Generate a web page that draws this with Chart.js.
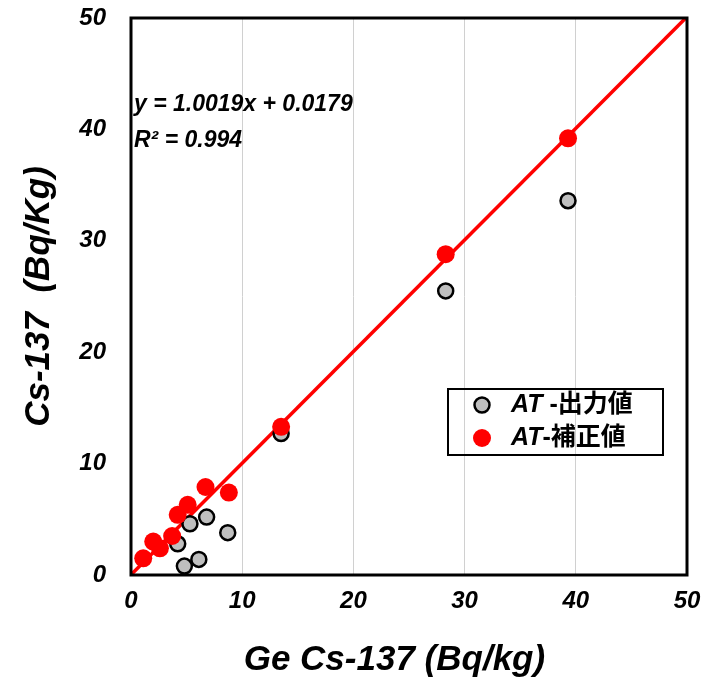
<!DOCTYPE html>
<html>
<head>
<meta charset="utf-8">
<script src="https://cdn.jsdelivr.net/npm/chart.js@4.4.0/dist/chart.umd.min.js"></script>
<style>
  body { margin: 0; background: #fff; }
  #wrap { width: 704px; height: 685px; }
</style>
</head>
<body>
<div id="wrap"><canvas id="scatterChart" width="704" height="685"></canvas></div>
<script>
// Ge (x) vs AT (y), Cs-137 Bq/kg
const atOutX = [39.3, 28.3, 13.5, 6.8, 5.3, 8.7, 4.2, 6.1, 4.8];
const atOutY = [33.6, 25.5, 12.7, 5.2, 4.6, 3.8, 2.8, 1.4, 0.8];

const atCorrX = [39.3, 28.3, 13.5, 6.7, 8.8, 5.1, 4.2, 3.7, 2.0, 2.6, 1.1];
const atCorrY = [39.2, 28.8, 13.3, 7.9, 7.4, 6.3, 5.4, 3.5, 3.0, 2.4, 1.5];

const fitSlope = 1.0019;
const fitIntercept = 0.0179;
const fitRange = [0, 50];

const xTicks = [0, 10, 20, 30, 40, 50];
const yTicks = [0, 10, 20, 30, 40, 50];

const toPoints = (xs, ys) => xs.map((x, i) => ({ x: x, y: ys[i] }));
const fitLine = fitRange.map(x => ({ x: x, y: fitSlope * x + fitIntercept }));

const FONT = '"Liberation Sans", Arial, "Noto Sans CJK JP", sans-serif';

// frame, equation and legend box
const extras = {
    id: 'extras',
    afterDraw(chart) {
        const c = chart.ctx;
        const a = chart.chartArea;
        c.save();
        c.strokeStyle = '#000';
        c.lineWidth = 3;
        c.strokeRect(a.left, a.top, a.right - a.left, a.bottom - a.top);

        c.fillStyle = '#000';
        c.font = 'italic bold 23px ' + FONT;
        c.textBaseline = 'middle';
        c.textAlign = 'left';
        c.fillText('y = 1.0019x + 0.0179', 134, 105);
        c.fillText('R\u00b2 = 0.994', 134, 141);

        // legend
        c.lineWidth = 2;
        c.strokeRect(448, 389, 215, 66);
        c.beginPath();
        c.arc(482, 405, 7.5, 0, Math.PI * 2);
        c.fillStyle = '#bfbfbf';
        c.fill();
        c.lineWidth = 2.5;
        c.stroke();
        c.beginPath();
        c.arc(482, 438, 9, 0, Math.PI * 2);
        c.fillStyle = '#ff0000';
        c.fill();

        c.fillStyle = '#000';
        c.font = 'italic bold 25px ' + FONT;
        c.fillText('AT', 511, 405);
        let w = c.measureText('AT').width;
        c.font = 'bold 25px ' + FONT;
        c.fillText(' -出力値', 511 + w, 405);
        c.font = 'italic bold 25px ' + FONT;
        c.fillText('AT', 511, 438);
        c.font = 'bold 25px ' + FONT;
        c.fillText('-補正値', 511 + w, 438);
        c.restore();
    }
};

window.addEventListener('DOMContentLoaded', function () {
    const ctx = document.getElementById('scatterChart').getContext('2d');
    new Chart(ctx, {
        type: 'scatter',
        data: {
            datasets: [
                {
                    label: 'fit',
                    type: 'line',
                    data: fitLine,
                    borderColor: '#ff0000',
                    borderWidth: 3.5,
                    pointRadius: 0,
                    fill: false,
                    order: 3
                },
                {
                    label: 'AT -出力値',
                    data: toPoints(atOutX, atOutY),
                    backgroundColor: '#bfbfbf',
                    borderColor: '#000',
                    borderWidth: 2.5,
                    pointRadius: 7.5,
                    order: 2
                },
                {
                    label: 'AT-補正値',
                    data: toPoints(atCorrX, atCorrY),
                    backgroundColor: '#ff0000',
                    borderColor: '#ff0000',
                    borderWidth: 0,
                    pointRadius: 9,
                    order: 1
                }
            ]
        },
        options: {
            responsive: false,
            animation: false,
            layout: { padding: { top: 18, right: 17, left: 0, bottom: 0 } },
            plugins: {
                legend: { display: false },
                tooltip: { enabled: false }
            },
            scales: {
                x: {
                    type: 'linear',
                    min: 0,
                    max: 50,
                    afterBuildTicks: s => { s.ticks = xTicks.map(v => ({ value: v })); },
                    afterFit: s => { s.height = 110; s.paddingLeft = 0; s.paddingRight = 0; },
                    grid: { color: '#d0d0d0', lineWidth: 1, drawTicks: false },
                    border: { display: false },
                    ticks: {
                        color: '#000',
                        padding: 12,
                        maxRotation: 0,
                        font: { family: FONT, size: 24, weight: 'bold', style: 'italic' }
                    },
                    title: {
                        display: true,
                        text: 'Ge Cs-137 (Bq/kg)   ',
                        color: '#000',
                        padding: { top: 10 },
                        font: { family: FONT, size: 35, weight: 'bold', style: 'italic' }
                    }
                },
                y: {
                    type: 'linear',
                    min: 0,
                    max: 50,
                    afterBuildTicks: s => { s.ticks = yTicks.map(v => ({ value: v })); },
                    afterFit: s => { s.width = 131; s.paddingTop = 0; s.paddingBottom = 0; },
                    grid: { display: false },
                    border: { display: false },
                    ticks: {
                        color: '#000',
                        padding: 17,
                        font: { family: FONT, size: 24, weight: 'bold', style: 'italic' }
                    },
                    title: {
                        display: true,
                        text: 'Cs-137  (Bq/Kg)',
                        color: '#000',
                        padding: { top: 18, bottom: 0 },
                        font: { family: FONT, size: 35, weight: 'bold', style: 'italic' }
                    }
                }
            }
        },
        plugins: [extras]
    });
});
</script>
</body>
</html>
